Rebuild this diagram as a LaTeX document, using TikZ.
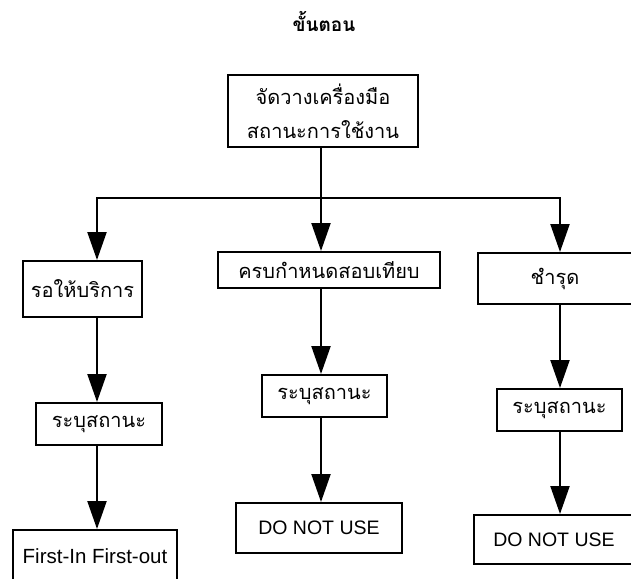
\documentclass[tikz,border=0pt]{standalone}
\usepackage{fontspec}
\setmainfont{Liberation Sans}
\newfontfamily\thai[Script=Thai]{Loma}
\usetikzlibrary{arrows.meta}
\begin{document}
\begin{tikzpicture}[x=1pt,y=-1pt,
  box/.style={draw, line width=2pt, rectangle, inner sep=0pt, align=center},
  conn/.style={line width=2.2pt},
  arr/.style={conn, -{Triangle[length=28pt,width=19pt]}},
  th/.style={font=\thai\fontsize{20}{34}\selectfont},
  lat/.style={font=\fontsize{19.5}{23}\selectfont}]
\useasboundingbox (0,0) rectangle (631,578);
\fill[white] (0,0) rectangle (631,578);

\node[font=\thai\bfseries\fontsize{19}{22}\selectfont] (title) at (324,21) {ขั้นตอน};
\node[box, th, minimum width=190pt, minimum height=72pt] (top) at (323,111) {จัดวางเครื่องมือ\\สถานะการใช้งาน};

\node[box, th, minimum width=119pt, minimum height=56pt] (A1) at (82.5,289) {รอให้บริการ};
\node[box, th, minimum width=222pt, minimum height=36pt] (B1) at (329,270) {ครบกำหนดสอบเทียบ};
\node[box, th, minimum width=154pt, minimum height=51pt] (C1) at (555,278.5) {ชำรุด};

\node[box, th, minimum width=126pt, minimum height=42pt] (A2) at (99,424) {ระบุสถานะ};
\node[box, th, minimum width=125pt, minimum height=42pt] (B2) at (324.5,396) {ระบุสถานะ};
\node[box, th, minimum width=125pt, minimum height=42pt] (C2) at (559.5,410) {ระบุสถานะ};

\node[box, font=\fontsize{20.5}{24}\selectfont, minimum width=164pt, minimum height=52pt] (A3) at (95,556) {First-In First-out};
\node[box, lat, minimum width=166pt, minimum height=50pt] (B3) at (319,528) {DO NOT USE};
\node[box, lat, minimum width=160pt, minimum height=49pt] (C3) at (554,539.5) {DO NOT USE};

\coordinate (jA) at (97,198);
\coordinate (jB) at (321,198);
\coordinate (jC) at (560,198);

\draw[conn] (top.south -| jB) -- (jB);
\draw[arr] (jB) -| (A1.north -| jA);
\draw[arr] (jB) -| (C1.north -| jC);
\draw[arr] (jB) -- (B1.north -| jB);

\draw[arr] (A1.south -| jA) -- (A2.north -| jA);
\draw[arr] (B1.south -| jB) -- (B2.north -| jB);
\draw[arr] (C1.south -| jC) -- (C2.north -| jC);

\draw[arr] (A2.south -| jA) -- (A3.north -| jA);
\draw[arr] (B2.south -| jB) -- (B3.north -| jB);
\draw[arr] (C2.south -| jC) -- (C3.north -| jC);
\end{tikzpicture}
\end{document}
